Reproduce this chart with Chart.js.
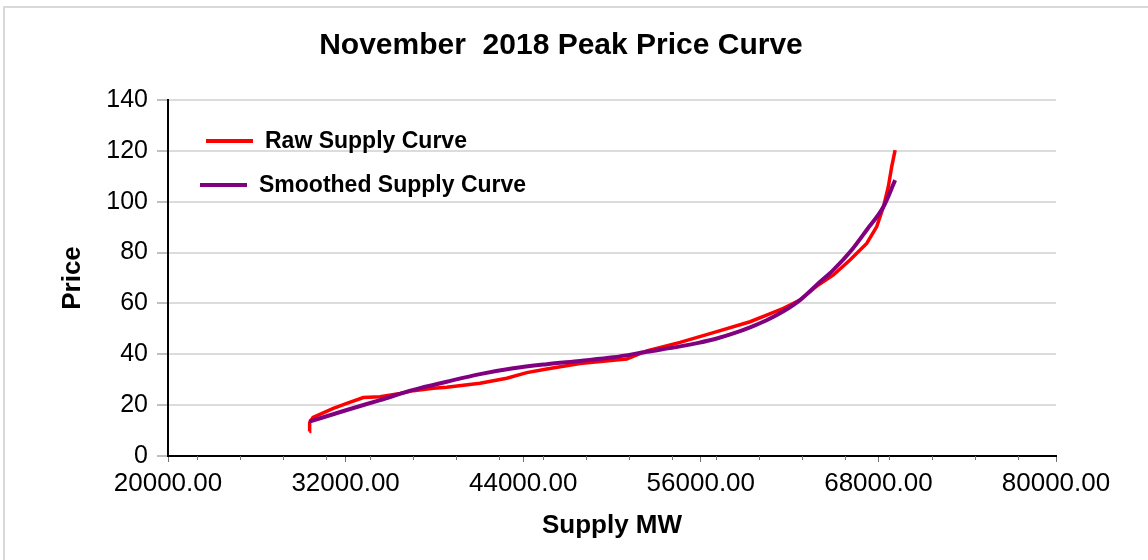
<!DOCTYPE html>
<html>
<head>
<meta charset="utf-8">
<title>November 2018 Peak Price Curve</title>
<script src="https://cdn.jsdelivr.net/npm/chart.js@4/dist/chart.umd.min.js"></script>
<style>
  html, body { margin: 0; padding: 0; background: #fff; overflow: hidden; }
  #wrap { position: relative; width: 1148px; height: 560px; }
  #frame { position: absolute; left: 3px; top: 6px; width: 1200px; height: 600px;
           border: 2px solid #d9d9d9; box-sizing: border-box; }
  canvas { position: absolute; left: 0; top: 0; }
</style>
</head>
<body>
<div id="wrap">
  <div id="frame"></div>
  <canvas id="curva" width="1148" height="560"></canvas>
</div>
<script>
// datos
var tituloGrafico = 'November  2018 Peak Price Curve';
var nombresSeries = ['Raw Supply Curve', 'Smoothed Supply Curve'];
var coloresSeries = ['#ff0000', '#800080'];

// curva cruda (MW, precio)
var crudaMW = [29550, 29570, 29600, 29800, 31170, 32080, 33200, 34330, 35680, 36580, 37930,
               38830, 41080, 42890, 44240, 45590, 47840, 50090, 50990, 52350, 54600, 57080,
               59330, 60450, 61580, 62700, 63830, 64960, 66080, 67210, 67890, 68340, 68670,
               68900, 69130];
var crudaPrecio = [9.6, 13.0, 13.6, 15.2, 18.7, 20.7, 23.0, 23.3, 24.6, 25.7, 26.6,
                   27.0, 28.6, 30.6, 32.8, 34.2, 36.4, 37.7, 38.1, 41.3, 44.7, 48.9,
                   52.8, 55.4, 58.1, 61.3, 66.8, 71.2, 77.1, 83.6, 90.2, 98.0, 105.9,
                   113.8, 120.3];

// curva suavizada (MW, precio)
var suaveMW = [29550, 32080, 34330, 36580, 38830, 41080, 43330, 45590, 47840, 50090, 52350,
               54600, 55840, 57080, 58200, 59330, 60450, 61580, 62700, 63830, 64960, 66080,
               67210, 68340, 69130];
var suavePrecio = [13.5, 18.1, 22.0, 26.0, 29.2, 32.2, 34.5, 36.1, 37.4, 38.8, 41.0,
                   43.1, 44.5, 46.2, 48.2, 50.6, 53.4, 56.9, 61.3, 67.3, 73.2, 80.2,
                   88.9, 98.0, 108.5];

// ejes
var ejeX = { min: 20000, max: 80000, paso: 12000, pasoMenor: 2922, inicioMenor: 21940 };
var ejeY = { min: 0, max: 140, paso: 20 };

var fuente = '"Liberation Sans", Arial, Helvetica, sans-serif';

function armarPuntos(xs, ys) {
    var puntos = [];
    for (var i = 0; i < xs.length; i++) {
        puntos.push({ x: xs[i], y: ys[i] });
    }
    return puntos;
}

// leyenda dentro del area del grafico
var leyendaInterna = {
    id: 'leyendaInterna',
    afterDraw: function(chart) {
        var ctx = chart.ctx;
        var area = chart.chartArea;
        var filas = [
            { dx: 38, dy: 41 },
            { dx: 32, dy: 85 }
        ];
        ctx.save();
        ctx.font = 'bold 23px ' + fuente;
        ctx.textBaseline = 'middle';
        ctx.fillStyle = '#000';
        for (var i = 0; i < nombresSeries.length; i++) {
            var f = filas[i];
            var x0 = area.left + f.dx;
            var y0 = area.top + f.dy;
            ctx.strokeStyle = coloresSeries[i];
            ctx.lineWidth = 4;
            ctx.beginPath();
            ctx.moveTo(x0, y0);
            ctx.lineTo(x0 + 47, y0);
            ctx.stroke();
            ctx.fillText(nombresSeries[i], x0 + 59, y0 + 1);
        }
        ctx.restore();
    }
};

// marcas menores en el eje x
var marcasMenores = {
    id: 'marcasMenores',
    afterDraw: function(chart) {
        var ctx = chart.ctx;
        var escala = chart.scales.x;
        var yBase = chart.chartArea.bottom;
        ctx.save();
        ctx.strokeStyle = '#707070';
        ctx.lineWidth = 1;
        ctx.beginPath();
        for (var v = ejeX.inicioMenor; v < ejeX.max; v += ejeX.pasoMenor) {
            var px = Math.round(escala.getPixelForValue(v)) + 0.5;
            ctx.moveTo(px, yBase);
            ctx.lineTo(px, yBase + 4);
        }
        ctx.stroke();
        ctx.restore();
    }
};

var lienzo = document.getElementById('curva');

var miCurva = new Chart(lienzo, {
    type: 'line',
    data: {
        datasets: [
            {
                label: nombresSeries[0],
                data: armarPuntos(crudaMW, crudaPrecio),
                borderColor: coloresSeries[0],
                backgroundColor: coloresSeries[0],
                borderWidth: 3.5,
                pointRadius: 0,
                tension: 0,
                order: 1
            },
            {
                label: nombresSeries[1],
                data: armarPuntos(suaveMW, suavePrecio),
                borderColor: coloresSeries[1],
                backgroundColor: coloresSeries[1],
                borderWidth: 4,
                pointRadius: 0,
                cubicInterpolationMode: 'monotone',
                order: 0
            }
        ]
    },
    options: {
        responsive: false,
        devicePixelRatio: 1,
        animation: false,
        layout: { padding: { left: 0, right: 26, top: 0, bottom: 0 } },
        plugins: {
            legend: { display: false },
            tooltip: { enabled: false },
            title: {
                display: true,
                text: tituloGrafico,
                color: '#000',
                font: { family: fuente, size: 30, weight: 'bold' },
                padding: { top: 28, bottom: 36 }
            }
        },
        scales: {
            x: {
                type: 'linear',
                min: ejeX.min,
                max: ejeX.max,
                afterFit: function(escala) {
                    escala.height = 104;
                    escala.paddingRight = 92;
                },
                ticks: {
                    stepSize: ejeX.paso,
                    color: '#000',
                    padding: 6,
                    maxRotation: 0,
                    font: { family: fuente, size: 26 },
                    callback: function(valor) { return Number(valor).toFixed(2); }
                },
                grid: {
                    drawOnChartArea: false,
                    drawTicks: true,
                    tickLength: 6,
                    tickColor: '#707070',
                    tickWidth: 1
                },
                border: { display: true, color: '#000', width: 2 },
                title: {
                    display: true,
                    text: 'Supply MW',
                    color: '#000',
                    font: { family: fuente, size: 26, weight: 'bold' },
                    padding: { top: 0, bottom: 19 }
                }
            },
            y: {
                type: 'linear',
                min: ejeY.min,
                max: ejeY.max,
                afterFit: function(escala) {
                    escala.width = 168;
                },
                ticks: {
                    stepSize: ejeY.paso,
                    color: '#000',
                    padding: 9,
                    font: { family: fuente, size: 25 }
                },
                grid: {
                    color: '#dcdcdc',
                    lineWidth: 2,
                    drawTicks: true,
                    tickLength: 11,
                    tickColor: '#808080',
                    tickWidth: 1
                },
                border: { display: true, color: '#000', width: 2 },
                title: {
                    display: true,
                    text: 'Price',
                    color: '#000',
                    font: { family: fuente, size: 26, weight: 'bold' },
                    padding: { top: 57, bottom: 0 }
                }
            }
        }
    },
    plugins: [leyendaInterna, marcasMenores]
});
</script>
</body>
</html>
